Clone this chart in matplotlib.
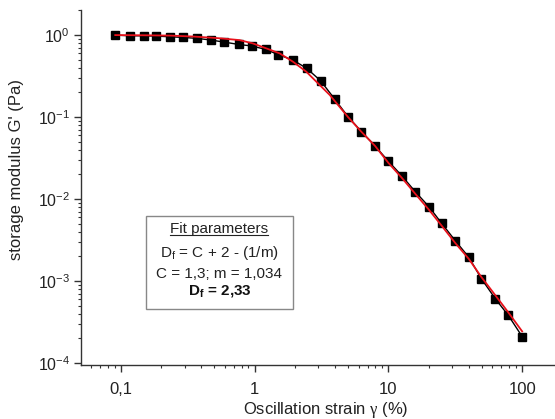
import numpy as np
import matplotlib
matplotlib.use('Agg')
import matplotlib.pyplot as plt
from matplotlib.ticker import FuncFormatter, LogLocator, FixedLocator
from matplotlib.patches import Rectangle
from matplotlib.lines import Line2D

plt.rcParams['font.family'] = ['Liberation Sans', 'DejaVu Sans']
plt.rcParams['mathtext.fontset'] = 'custom'
plt.rcParams['mathtext.rm'] = 'Liberation Serif'

# measured data (strain %, G' Pa)
strain = [0.091, 0.117, 0.148, 0.184, 0.235, 0.294, 0.374, 0.476, 0.596, 0.759,
          0.95, 1.21, 1.51, 1.94, 2.46, 3.12, 3.97, 5.0, 6.3, 7.96,
          9.96, 12.6, 15.9, 20.1, 25.0, 31.6, 39.9, 49.6, 63.1, 78.9, 100.0]
g_storage = [1.0, 0.98, 0.98, 0.972, 0.953, 0.937, 0.911, 0.869, 0.82, 0.77,
             0.737, 0.67, 0.576, 0.496, 0.392, 0.277, 0.166, 0.101, 0.0664, 0.0445,
             0.0292, 0.0193, 0.0123, 0.0081, 0.00508, 0.00312, 0.00196, 0.00107, 0.000608, 0.000381, 0.000211]

# fit curve
fit_strain = [0.091, 0.15, 0.235, 0.35, 0.476, 0.547, 0.772, 0.971, 1.224, 1.54, 1.94, 2.44, 3.07, 3.65,
              5.0, 6.3, 7.96, 10.0, 12.6, 15.9, 20.1, 25.0, 31.6, 39.9, 49.6, 63.1, 78.9, 100.0]
fit_g = [1.0, 0.995, 0.986, 0.96, 0.93, 0.915, 0.869, 0.792, 0.689, 0.599, 0.473, 0.357, 0.246, 0.186,
         0.1, 0.066, 0.0445, 0.0277, 0.0182, 0.0116, 0.00742, 0.00475, 0.00292, 0.00187, 0.00112,
         0.00067, 0.000414, 0.000244]

x_ticks = [0.1, 1, 10, 100]
x_ticklabels = ['0,1', '1', '10', '100']

box_lines = ['Fit parameters', r'D$_\mathregular{f}$ = C + 2 - (1/m)', 'C = 1,3; m = 1,034',
             r'D$_\mathregular{f}$ = 2,33']

fig = plt.figure(figsize=(5.55, 4.19), dpi=100)
ax = fig.add_axes([0.146, 0.129, 0.854, 0.847])

ax.plot(strain, g_storage, color='black', lw=1, marker='s', ms=5.5, zorder=2)
ax.plot(fit_strain, fit_g, color='#e8101a', lw=1.3, zorder=3)

ax.set_xscale('log')
ax.set_yscale('log')
ax.set_xlim(0.0505, 176)
ax.set_ylim(9.5e-5, 2.02)

ax.spines['top'].set_visible(False)
ax.spines['right'].set_visible(False)
for s in ['left', 'bottom']:
    ax.spines[s].set_linewidth(1.0)
    ax.spines[s].set_color('#333333')

ax.xaxis.set_major_locator(FixedLocator(x_ticks))
ax.set_xticklabels(x_ticklabels)
ax.xaxis.set_minor_locator(LogLocator(base=10, subs=np.arange(2, 10)))
ax.xaxis.set_minor_formatter(FuncFormatter(lambda v, p: ''))
ax.yaxis.set_major_locator(LogLocator(base=10, numticks=10))
ax.yaxis.set_minor_locator(LogLocator(base=10, subs=np.arange(2, 10), numticks=10))
ax.yaxis.set_major_formatter(FuncFormatter(lambda v, p: r'$\mathregular{10^{%d}}$' % round(np.log10(v))))
ax.yaxis.set_minor_formatter(FuncFormatter(lambda v, p: ''))
ax.tick_params(which='major', direction='out', length=5, width=1, labelsize=11.5, color='#333333',
               labelcolor='#222222', pad=3)
ax.tick_params(which='minor', direction='out', length=2.5, width=0.8, color='#333333')
ax.tick_params(axis='x', which='major', pad=7, labelsize=12)

ax.set_ylabel("storage modulus G' (Pa)", fontsize=12, color='#222222')
ax.set_xlabel(r'Oscillation strain $\mathrm{\gamma}$ (%)', fontsize=12, color='#222222')
ax.yaxis.set_label_coords(-0.12, 0.551)
ax.xaxis.set_label_coords(0.517, -0.1)

# fit parameter box
ax.add_patch(Rectangle((0.137, 0.158), 0.311, 0.262, transform=ax.transAxes, fill=False,
                       edgecolor='#888888', lw=1, zorder=4))
cx = 0.292
t0 = ax.text(cx, 0.383, box_lines[0], transform=ax.transAxes, ha='center', va='center', fontsize=11, color='#222222')
ax.text(cx, 0.315, box_lines[1], transform=ax.transAxes, ha='center', va='center', fontsize=11, color='#222222')
ax.text(cx, 0.256, box_lines[2], transform=ax.transAxes, ha='center', va='center', fontsize=11, color='#222222')
ax.text(cx, 0.206, box_lines[3], transform=ax.transAxes, ha='center', va='center', fontsize=11,
        fontweight='bold', color='#111111')

fig.canvas.draw()
bb = t0.get_window_extent().transformed(fig.transFigure.inverted())
fig.add_artist(Line2D([bb.x0, bb.x1], [bb.y0 + 0.003, bb.y0 + 0.003], transform=fig.transFigure,
                      color='#222222', lw=0.8))

fig.savefig('out.png', dpi=100)
